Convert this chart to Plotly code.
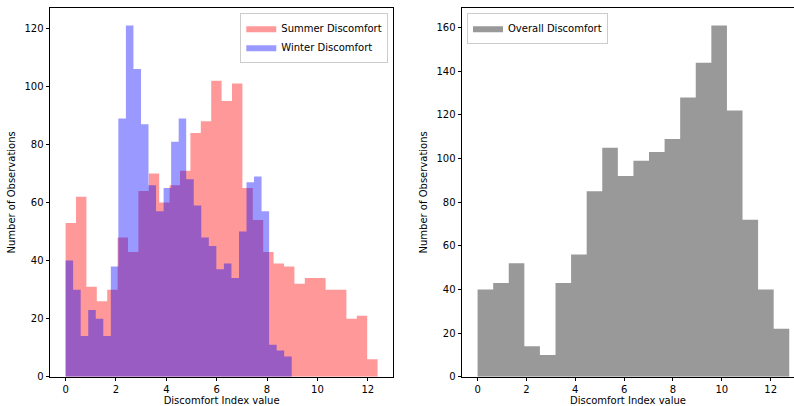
import numpy as np
import plotly.graph_objects as go

# ---- data (histogram counts) ----
summer_counts = [53, 62, 31, 26, 30, 48, 43, 64, 70, 60, 66, 71, 84, 88, 102,
                 95, 101, 65, 54, 43, 39, 38, 32, 34, 34, 30, 30, 20, 21, 6]
winter_counts = [40, 30, 14, 23, 20, 14, 38, 89, 121, 106, 87, 66, 57, 65, 81,
                 89, 68, 59, 48, 45, 37, 39, 34, 50, 67, 69, 57, 11, 9, 7]
overall_counts = [40, 43, 52, 14, 10, 43, 56, 85, 105, 92, 99, 103, 109, 128,
                  144, 161, 122, 72, 40, 22]
summer_range = (0.0, 12.39)
winter_range = (0.0, 8.98)
overall_range = (0.0, 12.76)
x_ticks = [0, 2, 4, 6, 8, 10, 12]
left_y_ticks = [0, 20, 40, 60, 80, 100, 120]
right_y_ticks = [0, 20, 40, 60, 80, 100, 120, 140, 160]


def step_outline(rng, counts):
    """Histogram outline (bin edges + counts) as a step polyline."""
    e = np.linspace(rng[0], rng[1], len(counts) + 1)
    xs = np.repeat(e, 2)[1:-1]
    ys = np.repeat(np.asarray(counts, dtype=float), 2)
    return np.concatenate([[e[0]], xs, [e[-1]]]), np.concatenate([[0], ys, [0]])


W, H = 794, 406
FONT = "DejaVu Sans"

fig = go.Figure()


def add_hist(rng, counts, color, name, xa, ya, leg):
    x, y = step_outline(rng, counts)
    fig.add_trace(go.Scatter(x=x, y=y, mode="lines", fill="toself",
                             fillcolor=color, line=dict(width=0, color=color),
                             name=name, xaxis=xa, yaxis=ya, legend=leg,
                             hoverinfo="skip"))


add_hist(summer_range, summer_counts, "rgba(255,0,0,0.4)", "Summer Discomfort", "x", "y", "legend")
add_hist(winter_range, winter_counts, "rgba(0,0,255,0.4)", "Winter Discomfort", "x", "y", "legend")
add_hist(overall_range, overall_counts, "rgba(128,128,128,0.8)", "Overall Discomfort", "x2", "y2", "legend2")

# plot-area geometry (pixels)
L1, R1 = 50, 393.2
L2, R2 = 462, 794
TOP, BOT = 8, 376.7


def px_x(p):
    return p / W


def px_y(p):
    return (H - p) / H


lmax = max(summer_range[1], winter_range[1])
l_pad = 0.05 * lmax
o_pad = 0.05 * overall_range[1]
px_per_unit = (R1 - L1) / (lmax + 2 * l_pad)

axis_common = dict(showline=True, linecolor="black", linewidth=1, ticks="outside",
                   ticklen=3.5, tickwidth=1, tickcolor="black", showgrid=False,
                   zeroline=False, automargin=False,
                   tickfont=dict(family=FONT, size=10, color="black"),
                   title_font=dict(family=FONT, size=10, color="black"))

fig.update_layout(
    width=W, height=H, margin=dict(l=0, r=0, t=0, b=0),
    paper_bgcolor="white", plot_bgcolor="white",
    font=dict(family=FONT, size=10, color="black"),
    xaxis=dict(domain=[px_x(L1), px_x(R1)], range=[-l_pad, lmax + l_pad],
               tickvals=x_ticks, mirror=True, anchor="y",
               title=dict(text="Discomfort Index value", standoff=4), **axis_common),
    yaxis=dict(domain=[px_y(BOT), px_y(TOP)],
               range=[0, max(max(summer_counts), max(winter_counts)) * 1.05],
               tickvals=left_y_ticks, mirror=True, anchor="x",
               title=dict(text="Number of Observations", standoff=6), **axis_common),
    xaxis2=dict(domain=[px_x(L2), 1.0],
                range=[-o_pad, -o_pad + (R2 - L2) / (px_per_unit * 0.97)],
                tickvals=x_ticks, mirror=True, anchor="y2",
                title=dict(text="Discomfort Index value", standoff=4), **axis_common),
    yaxis2=dict(domain=[px_y(BOT), px_y(TOP)], range=[0, max(overall_counts) * 1.05],
                tickvals=right_y_ticks, mirror=False, anchor="x2",
                title=dict(text="Number of Observations", standoff=6), **axis_common),
    legend=dict(x=px_x(388.3), y=px_y(12.7), xanchor="right", yanchor="top",
                bgcolor="rgba(255,255,255,0.8)", bordercolor="#cccccc", borderwidth=1,
                font=dict(family=FONT, size=10, color="black"), tracegroupgap=0,
                itemwidth=30),
    legend2=dict(x=px_x(467), y=px_y(12.7), xanchor="left", yanchor="top",
                 bgcolor="rgba(255,255,255,0.8)", bordercolor="#cccccc", borderwidth=1,
                 font=dict(family=FONT, size=10, color="black"), itemwidth=30),
    showlegend=True,
)

fig.write_html("out.html")
